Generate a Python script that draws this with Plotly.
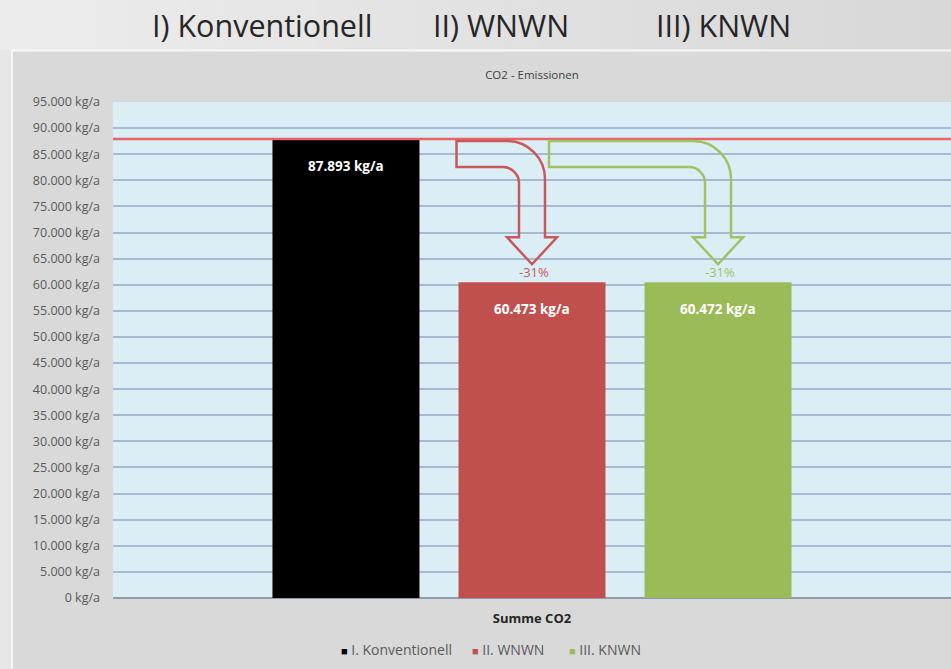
import plotly.graph_objects as go

# --- data -------------------------------------------------------------
category = ["Summe CO2"]
series_names = ["I. Konventionell", "II. WNWN", "III. KNWN"]
series_values = [87893, 60473, 60472]
series_colors = ["#000000", "#c0504d", "#9bbb59"]
arrow_colors = ["#c9585b", "#a3c163"]
header_labels = ["I) Konventionell", "II) WNWN", "III) KNWN"]
y_ticks = list(range(0, 95001, 5000))

# --- layout geometry --------------------------------------------------
W, H = 951, 669
ML, MR, MT, MB = 113, 0, 102, 71
PW, PH = W - ML - MR, H - MT - MB
YMAX = 95000
BARGAP = 0.334
BARGROUPGAP = 0.21
FONT = "Open Sans, sans-serif"


def fmt_de(v):
    return f"{v:,}".replace(",", ".")


y_ticktext = [f"{fmt_de(v)} kg/a" for v in y_ticks]


def px_y(v):
    return (H - MB) - v * PH / YMAX


def to_paper_x(px):
    return (px - ML) / PW


def to_data_y(py):
    return (H - MB - py) * YMAX / PH


slot = (1 - BARGAP) / len(series_values)
bar_w_px = slot * (1 - BARGROUPGAP) * PW
centers_px = [ML + PW * (0.5 + (i - 1) * slot) for i in range(len(series_values))]

fig = go.Figure()
for name, val, col in zip(series_names, series_values, series_colors):
    fig.add_trace(go.Bar(
        x=category, y=[val], name=name, marker=dict(color=col, line=dict(width=0)),
        showlegend=False, hoverinfo="name+y",
    ))

shapes = []
annotations = []

# header band with a soft horizontal gradient
n_strips = 30
for i in range(n_strips):
    t = i / (n_strips - 1)
    c = int(round(236 - 20 * t))
    shapes.append(dict(
        type="rect", xref="paper", yref="paper", layer="below",
        x0=to_paper_x(W * i / n_strips), x1=to_paper_x(W * (i + 1) / n_strips + 1),
        y0=(H - MB - 0) / PH, y1=(H - MB - 50) / PH,
        fillcolor=f"rgb({c},{c},{c})", line=dict(width=0),
    ))
# left strip outside the chart box
shapes.append(dict(
    type="rect", xref="paper", yref="paper", layer="below",
    x0=to_paper_x(0), x1=to_paper_x(11), y0=(H - MB - 50) / PH, y1=(H - MB - H) / PH,
    fillcolor="#e6e6e6", line=dict(width=0),
))
# white border of the chart box
shapes.append(dict(
    type="line", xref="paper", yref="paper", layer="below",
    x0=to_paper_x(12), x1=to_paper_x(W), y0=(H - MB - 50.5) / PH, y1=(H - MB - 50.5) / PH,
    line=dict(color="#f7f7f7", width=2),
))
shapes.append(dict(
    type="line", xref="paper", yref="paper", layer="below",
    x0=to_paper_x(12), x1=to_paper_x(12), y0=(H - MB - 50) / PH, y1=(H - MB - H) / PH,
    line=dict(color="#f7f7f7", width=2),
))

# reference line at the conventional level
base = series_values[0]
shapes.append(dict(
    type="line", xref="paper", yref="y", x0=0, x1=1, y0=base, y1=base,
    line=dict(color="#e4646a", width=2.5), layer="above",
))


def bent_arrow(x0, cx, ytop, tip):
    s, h, hh, t, R, r, k = 13, 25, 27, 26, 38, 16, 0.5523
    hb = tip - hh
    pts = [
        ("M", [(x0, ytop)]),
        ("L", [(cx + s - R, ytop)]),
        ("C", [(cx + s - R + k * R, ytop), (cx + s, ytop + R - k * R), (cx + s, ytop + R)]),
        ("L", [(cx + s, hb)]),
        ("L", [(cx + h, hb)]),
        ("L", [(cx, tip)]),
        ("L", [(cx - h, hb)]),
        ("L", [(cx - s, hb)]),
        ("L", [(cx - s, ytop + t + r)]),
        ("C", [(cx - s, ytop + t + r - k * r), (cx - s - r + k * r, ytop + t), (cx - s - r, ytop + t)]),
        ("L", [(x0, ytop + t)]),
    ]
    out = ""
    for cmd, ps in pts:
        out += cmd + " ".join(f"{to_paper_x(px):.5f},{to_data_y(py):.2f}" for px, py in ps)
    return out + "Z"


top_px = px_y(base) + 2
red_left_px = centers_px[1] - bar_w_px / 2
arrow_starts = [red_left_px - 2, centers_px[1] + 13 + 4]
for j, idx in enumerate([1, 2]):
    tip_px = px_y(series_values[idx]) - 18
    shapes.append(dict(
        type="path", xref="paper", yref="y", layer="above",
        path=bent_arrow(arrow_starts[j], centers_px[idx], top_px, tip_px),
        line=dict(color=arrow_colors[j], width=2.5), fillcolor="rgba(0,0,0,0)",
    ))
    pct = round((series_values[idx] - base) / base * 100)
    annotations.append(dict(
        xref="paper", yref="y", x=to_paper_x(centers_px[idx] + 2), y=series_values[idx],
        text=f"{pct}%", showarrow=False, xanchor="center", yanchor="bottom", yshift=-1,
        font=dict(family=FONT, size=13, color=arrow_colors[j]),
    ))

# value labels inside the bars
for i, val in enumerate(series_values):
    annotations.append(dict(
        xref="paper", yref="y", x=to_paper_x(centers_px[i]), y=val, yshift=-27,
        text=f"<b>{fmt_de(val)} kg/a</b>", showarrow=False,
        xanchor="center", yanchor="middle",
        font=dict(family=FONT, size=13.5, color="#ffffff"),
    ))

# header captions
header_centers = [262, 501, 723]
for lab, cx in zip(header_labels, header_centers):
    annotations.append(dict(
        xref="paper", yref="paper", x=to_paper_x(cx), y=(H - MB - 25) / PH,
        text=lab, showarrow=False, xanchor="center", yanchor="middle",
        font=dict(family=FONT, size=30.5, color="#262626"),
    ))

# legend row
legend_x = [339, 470, 567]
for name, col, lx in zip(series_names, series_colors, legend_x):
    annotations.append(dict(
        xref="paper", yref="paper", x=to_paper_x(lx), y=(H - MB - 649) / PH,
        text=f"<span style='color:{col};font-size:11px'>■</span> {name}", showarrow=False,
        xanchor="left", yanchor="middle",
        font=dict(family=FONT, size=14, color="#595959"),
    ))

fig.update_layout(
    width=W, height=H,
    margin=dict(l=ML, r=MR, t=MT, b=MB, pad=0),
    paper_bgcolor="#d9d9d9", plot_bgcolor="#dbeef5",
    barmode="group", bargap=BARGAP, bargroupgap=BARGROUPGAP,
    title=dict(text="CO2 - Emissionen", x=0.5, xref="paper", xanchor="center",
               y=1 - 75 / H, yref="container", yanchor="middle",
               font=dict(family=FONT, size=11.5, color="#404040")),
    xaxis=dict(
        tickmode="array", tickvals=category, ticktext=["<b>Summe CO2</b>"],
        tickfont=dict(family=FONT, size=13, color="#262626"),
        showgrid=False, showline=False, ticks="", ticklabelstandoff=11,
    ),
    yaxis=dict(
        range=[0, YMAX], tickmode="array", tickvals=y_ticks, ticktext=y_ticktext,
        tickfont=dict(family=FONT, size=12.5, color="#595959"),
        gridcolor="#a6bad3", gridwidth=1.5, zeroline=True, zerolinecolor="#8f9cac",
        zerolinewidth=1.5, showline=False, ticks="", ticklabelstandoff=12,
    ),
    shapes=shapes, annotations=annotations,
)

fig.write_html("out.html")
